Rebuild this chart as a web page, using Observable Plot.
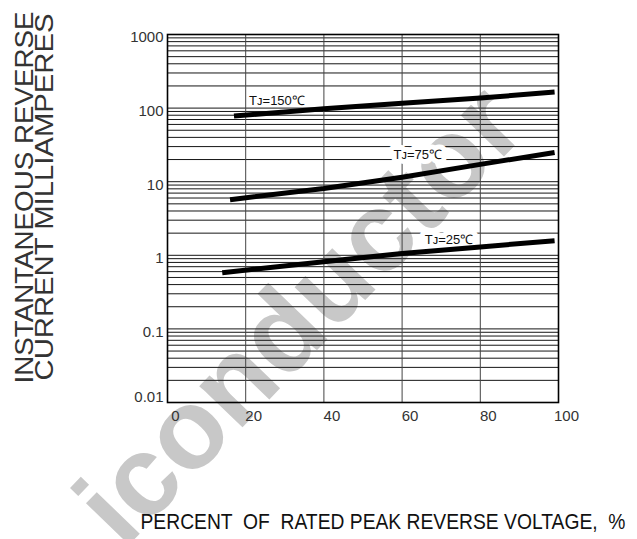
<!DOCTYPE html>
<html><head><meta charset="utf-8">
<script src="https://cdn.jsdelivr.net/npm/d3@7"></script>
<script src="https://cdn.jsdelivr.net/npm/@observablehq/plot@0.6"></script>
<style>body{margin:0;background:#fff}</style>
</head><body><div id="chart"></div>
<script>
// ---- data ----
const xTicks = [0, 20, 40, 60, 80, 100];
const yTicks = [0.1, 1, 10, 100, 1000];
const yTickBottom = [0.01];
const xGrid = [20, 40, 60, 80];
const yGrid = [
  0.01,0.02,0.03,0.04,0.05,0.06,0.07,0.08,0.09,
  0.1,0.2,0.3,0.4,0.5,0.6,0.7,0.8,0.9,
  1,2,3,4,5,6,7,8,9,
  10,20,30,40,50,60,70,80,90,
  100,200,300,400,500,600,700,800,900,
  1000
];
const pct150 = [17, 40, 60, 80, 99];
const mA150  = [78, 98, 116, 137, 165];
const pct75  = [16, 40, 60, 80, 99];
const mA75   = [5.7, 8.1, 11.5, 17.2, 25];
const pct25  = [14, 40, 60, 80, 99];
const mA25   = [0.58, 0.82, 1.06, 1.3, 1.58];
const labelText = ["T\u1D0A=150\u2103", "T\u1D0A=75\u2103", "T\u1D0A=25\u2103"];
const labelPct  = [28, 64, 72];
const labelmA   = [127, 23, 1.64];
const labelHalo = [0, 1, 1];
const yTitle1 = "INSTANTANEOUS REVERSE";
const yTitle2 = "CURRENT MILLIAMPERES";
const xTitle = "PERCENT  OF  RATED PEAK REVERSE VOLTAGE,  %";
const watermark = "iconductor";

// ---- tables built from the arrays ----
const curves = [
  ...pct150.map((x, i) => ({x, y: mA150[i], s: "150"})),
  ...pct75.map((x, i) => ({x, y: mA75[i], s: "75"})),
  ...pct25.map((x, i) => ({x, y: mA25[i], s: "25"}))
];
const labels = labelText.map((t, i) => ({t, x: labelPct[i], y: labelmA[i], h: labelHalo[i]}));

const font = "'Liberation Sans', Arial, sans-serif";

const chart = Plot.plot({
  width: 637, height: 539,
  marginTop: 34, marginBottom: 137, marginLeft: 167, marginRight: 79,
  x: {domain: [0, 100], axis: null},
  y: {type: "log", domain: [0.01, 1000], axis: null},
  style: {fontFamily: font, background: "#fff", color: "#222"},
  marks: [
    Plot.text([watermark], {text: d => d, frameAnchor: "bottom-left", dx: -44, dy: 148, rotate: -46,
      fontSize: 113, fontWeight: "bold", fill: "#c8c8c8", textAnchor: "start", lineAnchor: "bottom"}),
    Plot.ruleY(yGrid, {stroke: "#161616", strokeWidth: 1}),
    Plot.ruleX(xGrid, {stroke: "#444", strokeWidth: 1}),
    Plot.frame({stroke: "#000", strokeWidth: 1.6}),
    Plot.text(labels.filter(d => d.h > 0), {x: "x", y: "y", text: "t", fill: "none", stroke: "#fff", strokeWidth: 10, fontSize: 13}),
    Plot.text(labels, {x: "x", y: "y", text: "t", fill: "#111", fontSize: 13}),
    Plot.line(curves, {x: "x", y: "y", z: "s", stroke: "#000", strokeWidth: 5, strokeLinecap: "butt"}),
    Plot.axisX(xTicks, {tickSize: 0, tickPadding: 8, fontSize: 15, fill: "#333", dx: 8, label: null}),
    Plot.axisY(yTicks, {tickSize: 0, tickPadding: 4, fontSize: 15, fill: "#333", dy: 3, label: null, tickFormat: d => String(d)}),
    Plot.axisY(yTickBottom, {tickSize: 0, tickPadding: 4, fontSize: 15, fill: "#333", dy: -5, label: null, tickFormat: d => String(d)}),
    Plot.text([yTitle1], {text: d => d, frameAnchor: "left", dx: -143, dy: 165, rotate: -90, textAnchor: "start", fontSize: 25, fill: "#333"}),
    Plot.text([yTitle2], {text: d => d, frameAnchor: "left", dx: -123, dy: 162, rotate: -90, textAnchor: "start", fontSize: 25, fill: "#333"}),
    Plot.text([xTitle], {text: d => d, frameAnchor: "bottom", dx: 20, dy: 126, fontSize: 22, fill: "#111"})
  ]
});
document.getElementById("chart").appendChild(chart);

// condensed type as in the reference: fit the titles to their measured lengths
const fit = {[xTitle]: 485, [yTitle1]: 372, [yTitle2]: 367};
d3.select(chart).selectAll("text").each(function () {
  const t = this.textContent;
  if (fit[t]) d3.select(this).attr("textLength", fit[t]).attr("lengthAdjust", "spacingAndGlyphs");
});
</script>
</body></html>
